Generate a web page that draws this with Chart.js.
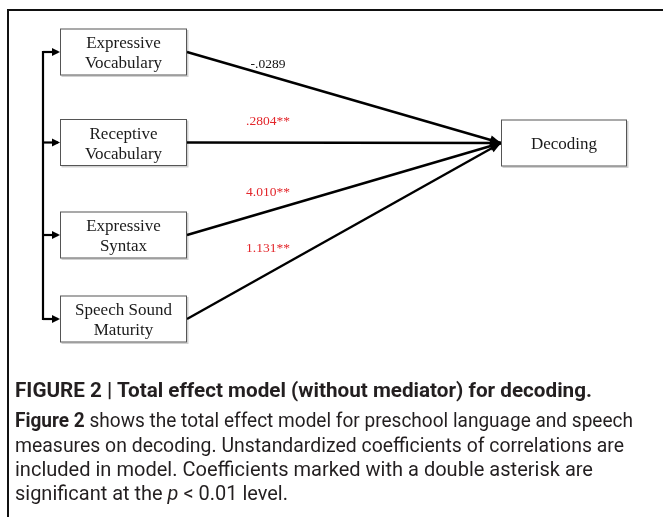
<!DOCTYPE html>
<html>
<head>
<meta charset="utf-8">
<script src="https://cdn.jsdelivr.net/npm/chart.js@4/dist/chart.umd.min.js"></script>
<style>
  html,body{margin:0;padding:0;background:#fff;}
  #wrap{position:relative;width:663px;height:517px;overflow:hidden;}
  #frame{position:absolute;left:7px;top:9px;right:-10px;bottom:-10px;border-top:2px solid #111;border-left:2px solid #111;}
  #diagram{position:absolute;left:0;top:0;}
  .cap{position:absolute;left:15px;white-space:nowrap;transform-origin:0 50%;color:#231f20;
       font-family:"Liberation Sans Narrow","Roboto","Liberation Sans",sans-serif;font-size:19.5px;line-height:22px;}
  .cap b{font-weight:bold;}
  .cap.title{font-size:20.5px;}
</style>
</head>
<body>
<div id="wrap">
  <div id="frame"></div>
  <canvas id="diagram" width="663" height="517"></canvas>
  <div class="cap title" data-w="577" style="top:379px"><b>FIGURE 2 | Total effect model (without mediator) for decoding.</b></div>
  <div class="cap" data-w="618" style="top:410px"><b>Figure 2</b> shows the total effect model for preschool language and speech</div>
  <div class="cap" data-w="609" style="top:435px">measures on decoding. Unstandardized coefficients of correlations are</div>
  <div class="cap" data-w="578" style="top:459px">included in model. Coefficients marked with a double asterisk are</div>
  <div class="cap" data-w="273" style="top:483px">significant at the <i>p</i> &lt; 0.01 level.</div>
</div>
<script>
// data
const predictors = [['Expressive','Vocabulary'],['Receptive','Vocabulary'],['Expressive','Syntax'],['Speech Sound','Maturity']];
const outcome = 'Decoding';
const coefficients = ['-.0289','.2804**','4.010**','1.131**'];
const significant = [false,true,true,true];

// layout (pixels, page coords)
const boxLeft = 60, boxW = 127, boxH = 47;
const nodeY = [52, 142.5, 235, 319];
const outBox = {x:501, y:143, w:126, h:47};
const bracketX = 43;
const labelX = 268;
const labelLift = [11, 21, 19, 25];

// caption lines squeezed to the measured widths
document.querySelectorAll('.cap').forEach(el=>{
  const w = el.getBoundingClientRect().width;
  el.style.transform = 'scaleX(' + (el.dataset.w / w) + ')';
});

const tip = {x: outBox.x, y: outBox.y};
const datasets = [];
predictors.forEach((p,i)=>{
  datasets.push({data:[{x:boxLeft+boxW, y:nodeY[i]}, tip], borderColor:'#000', borderWidth:2.4, showLine:true, pointRadius:0});
  datasets.push({data:[{x:bracketX, y:nodeY[i]}, {x:boxLeft-2, y:nodeY[i]}], borderColor:'#000', borderWidth:2.2, showLine:true, pointRadius:0});
});
datasets.push({data:[{x:bracketX, y:nodeY[0]-1}, {x:bracketX, y:nodeY[3]+1}], borderColor:'#000', borderWidth:2.2, showLine:true, pointRadius:0});

function arrow(ctx, x0, y0, x1, y1, len, half){
  const a = Math.atan2(y1-y0, x1-x0);
  ctx.beginPath();
  ctx.moveTo(x1, y1);
  ctx.lineTo(x1 - len*Math.cos(a) + half*Math.sin(a), y1 - len*Math.sin(a) - half*Math.cos(a));
  ctx.lineTo(x1 - len*Math.cos(a) - half*Math.sin(a), y1 - len*Math.sin(a) + half*Math.cos(a));
  ctx.closePath();
  ctx.fill();
}

function drawBox(ctx, xs, ys, left, cy, w, h, lines){
  const x0 = xs.getPixelForValue(left), x1 = xs.getPixelForValue(left+w);
  const y0 = ys.getPixelForValue(cy-h/2), y1 = ys.getPixelForValue(cy+h/2);
  ctx.fillStyle = 'rgba(0,0,0,0.18)';
  ctx.fillRect(x0+1.5, y0+1.5, x1-x0, y1-y0);
  ctx.fillStyle = '#fff';
  ctx.fillRect(x0, y0, x1-x0, y1-y0);
  ctx.strokeStyle = '#555';
  ctx.lineWidth = 1;
  ctx.strokeRect(x0+0.5, y0+0.5, x1-x0-1, y1-y0-1);
  ctx.fillStyle = '#1a1a1a';
  ctx.font = '17px "Liberation Serif","Times New Roman",serif';
  ctx.textAlign = 'center';
  ctx.textBaseline = 'middle';
  const cx = (x0+x1)/2, my = (y0+y1)/2 + 2;
  lines.forEach((t,k)=>{
    ctx.fillText(t, cx, my + (k - (lines.length-1)/2)*20);
  });
}

const pathPlugin = {
  id:'pathPlugin',
  afterDatasetsDraw(chart){
    const ctx = chart.ctx, xs = chart.scales.x, ys = chart.scales.y;
    ctx.save();
    ctx.fillStyle = '#000';
    const tx = xs.getPixelForValue(tip.x), ty = ys.getPixelForValue(tip.y);
    predictors.forEach((p,i)=>{
      const sx = xs.getPixelForValue(boxLeft+boxW), sy = ys.getPixelForValue(nodeY[i]);
      arrow(ctx, sx, sy, tx, ty, 11, 4.5);
      const y = ys.getPixelForValue(nodeY[i]);
      arrow(ctx, xs.getPixelForValue(bracketX), y, xs.getPixelForValue(boxLeft), y, 8, 4);
    });
    predictors.forEach((p,i)=> drawBox(ctx, xs, ys, boxLeft, nodeY[i], boxW, boxH, p));
    drawBox(ctx, xs, ys, outBox.x, outBox.y, outBox.w, outBox.h, [outcome]);
    ctx.font = '13.5px "Liberation Serif","Times New Roman",serif';
    ctx.textAlign = 'center';
    ctx.textBaseline = 'middle';
    coefficients.forEach((c,i)=>{
      const lx = labelX;
      const ly = nodeY[i] + (tip.y-nodeY[i])*(lx-boxLeft-boxW)/(tip.x-boxLeft-boxW) - labelLift[i];
      ctx.fillStyle = significant[i] ? '#e3262b' : '#111';
      ctx.fillText(c, xs.getPixelForValue(lx), ys.getPixelForValue(ly));
    });
    ctx.restore();
  }
};

new Chart(document.getElementById('diagram'), {
  type:'scatter',
  data:{datasets},
  options:{
    responsive:false,
    animation:false,
    events:[],
    layout:{padding:0},
    plugins:{legend:{display:false}, tooltip:{enabled:false}},
    scales:{
      x:{type:'linear', min:0, max:663, display:false},
      y:{type:'linear', min:0, max:517, reverse:true, display:false}
    }
  },
  plugins:[pathPlugin]
});
</script>
</body>
</html>
